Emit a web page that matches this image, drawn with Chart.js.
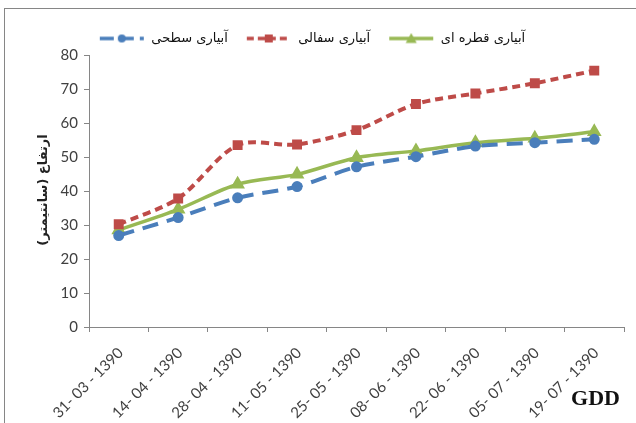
<!DOCTYPE html>
<html>
<head>
<meta charset="utf-8">
<script src="https://cdn.jsdelivr.net/npm/chart.js@4/dist/chart.umd.min.js"></script>
<style>
  html, body { margin: 0; padding: 0; background: #fff; }
  #wrap { width: 636px; height: 423px; position: relative; }
</style>
</head>
<body>
<div id="wrap"><canvas id="chart"></canvas></div>
<script>
// ─── data ─────────────────────────────────────────────
const dates = ['31- 03 - 1390', '14- 04 - 1390', '28- 04 - 1390', '11- 05 - 1390', '25- 05 - 1390',
               '08- 06 - 1390', '22- 06 - 1390', '05- 07 - 1390', '19- 07 - 1390'];
const surfaceIrr = [26.9, 32.2, 38.0, 41.3, 47.1, 50.1, 53.2, 54.2, 55.2];
const clayPotIrr = [30.2, 37.8, 53.5, 53.7, 57.9, 65.6, 68.7, 71.7, 75.4];
const dripIrr    = [28.5, 34.6, 42.0, 44.9, 49.8, 51.8, 54.2, 55.5, 57.4];
const seriesNames = ['آبیاری سطحی', 'آبیاری سفالی', 'آبیاری قطره ای'];
const yTicks = [0, 10, 20, 30, 40, 50, 60, 70, 80];

const BLUE = '#4A7EBB', RED = '#BE4B48', GREEN = '#98B954';
const AXIS = '#868686', TXT = '#404040';

// little legend swatch: line + marker, like Excel
function swatch(color, dash, style) {
  const c = document.createElement('canvas');
  c.width = 46; c.height = 12;
  const g = c.getContext('2d');
  g.strokeStyle = color; g.lineWidth = 3.5; g.setLineDash(dash);
  g.beginPath(); g.moveTo(1, 6); g.lineTo(45, 6); g.stroke();
  g.setLineDash([]); g.fillStyle = color;
  g.beginPath();
  if (style === 'circle') g.arc(23, 6, 4, 0, Math.PI * 2);
  else if (style === 'rect') g.rect(19, 2, 8, 8);
  else { g.moveTo(23, 0.5); g.lineTo(28.5, 10.5); g.lineTo(17.5, 10.5); g.closePath(); }
  g.fill();
  return c;
}

const frame = {
  id: 'frame',
  beforeDraw(chart) {
    const ctx = chart.ctx;
    ctx.save();
    ctx.strokeStyle = AXIS; ctx.lineWidth = 1;
    ctx.strokeRect(4.5, 8.5, 700, 500);
    ctx.restore();
  },
  afterDraw(chart) {
    const ctx = chart.ctx;
    ctx.save();
    // y title
    ctx.translate(44, 190);
    ctx.rotate(-Math.PI / 2);
    ctx.direction = 'rtl';
    ctx.font = 'bold 13px "DejaVu Sans"';
    ctx.fillStyle = '#222';
    ctx.textAlign = 'center'; ctx.textBaseline = 'middle';
    ctx.fillText('ارتفاع (سانتیمتر)', 0, 0);
    ctx.restore();
    // GDD
    ctx.save();
    ctx.font = 'bold 22px "Liberation Serif"';
    ctx.fillStyle = '#111';
    ctx.textAlign = 'right'; ctx.textBaseline = 'alphabetic';
    ctx.fillText('GDD', 620, 405);
    ctx.restore();
  }
};

new Chart(document.getElementById('chart'), {
  type: 'line',
  data: {
    labels: dates,
    datasets: [
      { label: seriesNames[0], data: surfaceIrr, borderColor: BLUE, backgroundColor: BLUE,
        borderWidth: 4, borderDash: [16, 9], pointStyle: 'circle', pointRadius: 3.5,
        legendSwatch: swatch(BLUE, [14, 6], 'circle') },
      { label: seriesNames[1], data: clayPotIrr, borderColor: RED, backgroundColor: RED,
        borderWidth: 4, borderDash: [8, 5], pointStyle: 'rect', pointRadius: 4.2,
        legendSwatch: swatch(RED, [7, 4], 'rect') },
      { label: seriesNames[2], data: dripIrr, borderColor: GREEN, backgroundColor: GREEN,
        borderWidth: 3.5, pointStyle: 'triangle', pointRadius: 5,
        legendSwatch: swatch(GREEN, [], 'triangle') }
    ]
  },
  options: {
    responsive: true,
    maintainAspectRatio: false,
    animation: false,
    layout: { padding: { top: 14, right: 12, left: 0, bottom: 0 } },
    elements: { line: { tension: 0.3 }, point: { borderWidth: 0 } },
    plugins: {
      tooltip: { enabled: false },
      legend: {
        position: 'top',
        labels: {
          usePointStyle: true,
          pointStyleWidth: 46,
          padding: 18,
          color: '#111',
          font: { family: '"DejaVu Sans"', size: 13 },
          generateLabels(chart) {
            return chart.data.datasets.map((ds, i) => ({
              text: ds.label, fillStyle: ds.borderColor, strokeStyle: ds.borderColor,
              lineWidth: 0, pointStyle: ds.legendSwatch, hidden: false, datasetIndex: i, fontColor: '#111'
            }));
          }
        }
      }
    },
    scales: {
      x: {
        offset: true,
        grid: { display: true, drawOnChartArea: false, offset: true, color: AXIS, tickLength: 5, tickColor: AXIS },
        border: { color: AXIS },
        ticks: { color: TXT, font: { family: 'Lato', size: 15 }, maxRotation: 45, minRotation: 45, autoSkip: false,
                 labelOffset: 2, padding: 12 },
        afterFit(s) { s.height = 96; }
      },
      y: {
        min: 0, max: 80,
        afterBuildTicks(s) { s.ticks = yTicks.map(v => ({ value: v })); },
        grid: { display: true, drawOnChartArea: false, color: AXIS, tickLength: 5, tickColor: AXIS },
        border: { color: AXIS },
        ticks: { color: TXT, font: { family: 'Lato', size: 15 }, padding: 6 },
        afterFit(s) { s.width = 89; }
      }
    }
  },
  plugins: [frame]
});
</script>
</body>
</html>
